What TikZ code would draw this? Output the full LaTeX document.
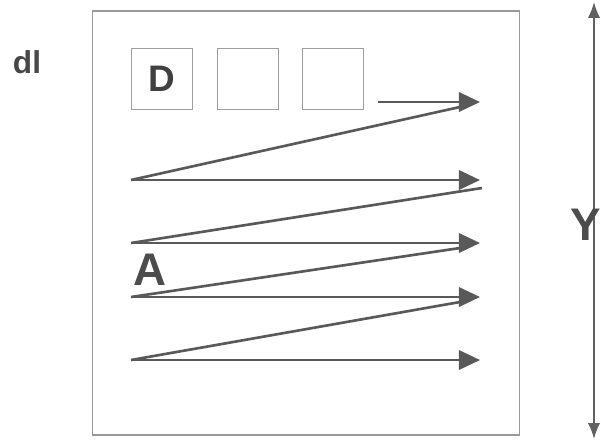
\documentclass[tikz,border=0pt]{standalone}
\usepackage{fontspec}
\setmainfont{Liberation Sans}
\usetikzlibrary{arrows.meta,positioning,calc}
\tikzset{
  marco/.style={rectangle, draw=black!40, line width=0.8pt, inner sep=0pt},
  celda/.style={rectangle, draw=black!38, line width=0.8pt, minimum size=35pt, inner sep=0pt,
                font=\bfseries\fontsize{21}{21}\selectfont, text=black!75},
  barrido/.style={draw=black!65, line width=1.5pt, -{Triangle[length=12pt,width=11pt]}},
  retorno/.style={draw=black!65, line width=1.5pt},
  eje/.style={draw=black!62, line width=1.1pt, {Latex[length=9pt,width=7pt]}-{Latex[length=9pt,width=7pt]}},
  etiq/.style={font=\bfseries\fontsize{26}{26}\selectfont, text=black!70, inner sep=0pt}
}

\begin{document}
\begin{tikzpicture}[x=0.02cm,y=-0.02cm]
\useasboundingbox (0,0) rectangle (601,441);

\node[marco, minimum width=242.7pt, minimum height=241.5pt] (campo) at (306,223) {};

\node[font=\bfseries\fontsize{18}{18}\selectfont, text=black!72, inner sep=0pt] (dl) at (27,62) {dl};

\node[celda] (c1) at (162,79) {D};
\node[celda] (c2) at (248,79) {};
\node[celda] (c3) at (333,79) {};

% lines of the scan
\coordinate (i0) at (378,102); \coordinate (f0) at (480,102);
\coordinate (i1) at (131,180); \coordinate (f1) at (480,180);
\coordinate (i2) at (131,243); \coordinate (f2) at (480,243);
\coordinate (i3) at (131,297); \coordinate (f3) at (480,297);
\coordinate (i4) at (131,360); \coordinate (f4) at (480,360);

\draw[barrido] (i0) -- (f0);
\draw[barrido] (i1) -- (f1);
\draw[barrido] (i2) -- (f2);
\draw[barrido] (i3) -- (f3);
\draw[barrido] (i4) -- (f4);

% returns
\draw[retorno] (i1) -- ($(f0)+(-20,5)$);
\draw[retorno] (i2) -- ($(f1)+(2,8)$);
\draw[retorno] (i3) -- ($(f2)+(-20,5)$);
\draw[retorno] (i4) -- ($(f3)+(-20,5)$);

\node[etiq] (A) at (150,270) {A};

\coordinate (arriba) at (594,2);
\coordinate (abajo) at (594,439);
\draw[eje] (arriba) -- (abajo);
\node[etiq] (Y) at (586,225) {Y};
\end{tikzpicture}
\end{document}
